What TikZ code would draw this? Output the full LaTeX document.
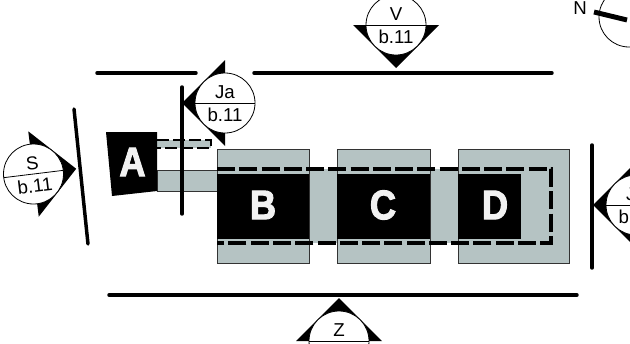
\documentclass[tikz,border=0pt]{standalone}
\usepackage{fontspec}
\setmainfont{Liberation Sans}
\newfontfamily\blockfont[FakeBold=2.5]{Liberation Sans Bold}
\usetikzlibrary{calc}
\definecolor{wall}{HTML}{B5C3C3}
\tikzset{
  block/.style={fill=wall, draw=black!80, line width=0.6pt},
  strip/.style={fill=wall},
  blocktext/.style={font=\blockfont\fontsize{31}{31}\selectfont, text=black!5, xscale=0.88, transform shape, inner sep=0pt},
  cut/.style={line width=2.6pt, line cap=round},
  hidden/.style={line width=2.6pt, dash pattern=on 13.5pt off 3.2pt},
  marktext/.style={font=\fontsize{14}{14}\selectfont, inner sep=0pt},
}
% name, center, triangle angle, text angle, upper text, lower text
\newcommand{\viewmark}[6]{
  \coordinate (#1) at #2;
  \fill[rotate around={#3:(#1)}] ([xshift=-32.25pt]#1) -- ([xshift=32.25pt]#1) -- ([yshift=-32.25pt]#1) -- cycle;
  \draw[fill=white, line width=0.6pt] (#1) circle (22.5pt);
  \draw[line width=0.6pt, rotate around={#4:(#1)}] ([xshift=-22.5pt]#1) -- ([xshift=22.5pt]#1);
  \node[marktext, rotate=#4] (#1up) at ($(#1)+(#4+90:8pt)$) {#5};
  \node[marktext, rotate=#4] (#1low) at ($(#1)+(#4-90:9pt)$) {#6};
}

\begin{document}
\begin{tikzpicture}[x=0.75pt, y=-0.75pt]
  \useasboundingbox (0,0) rectangle (630,343);
  \clip (0,0) rectangle (630,343);

  %Define the building
  \fill[strip] (309,169) rectangle (337,243);
  \fill[strip] (430,169) rectangle (458,243);
  \draw[block] (217,149) rectangle (309,263);
  \draw[block] (337,149) rectangle (430,263);
  \draw[block] (458,149) rectangle (569,263);
  \draw[block] (157,170) rectangle (217,191);
  \fill[strip] (157,140) rectangle (211,148);
  \draw[line width=1.4pt, dash pattern=on 9pt off 3pt] (157,140) -- (211,140) -- (211,148) -- (157,148);
  \draw[hidden] (217,169) -- (551,169) -- (551,243) -- (217,243);

  \fill (106,132) -- (157,132) -- (157,191) -- (112,196) -- cycle;
  \fill (217,174) rectangle (309,239);
  \fill (337,174) rectangle (430,239);
  \fill (458,174) rectangle (521,239);
  \node[blocktext] (la) at (132.5,162) {A};
  \node[blocktext] (lb) at (263,205) {B};
  \node[blocktext] (lc) at (383,205) {C};
  \node[blocktext] (ld) at (495,205) {D};

  % Cut lines
  \draw[cut] (97,73) -- (196,73);
  \draw[cut] (254,73) -- (552,73);
  \draw[cut] (74,109) -- (88,244);
  \draw[cut] (182,87) -- (182,214);
  \draw[cut] (592,145) -- (592,268);
  \draw[cut] (109,295) -- (577,295);

  % View marks
  \viewmark{v}{(396,25)}{0}{0}{V}{b.11}
  \viewmark{s}{(33.5,174)}{97}{7}{S}{b.11}
  \viewmark{ja}{(225,103)}{-90}{0}{Ja}{b.11}
  \viewmark{j}{(636,205)}{-90}{0}{Ja}{b.11}
  \viewmark{z}{(339,341)}{180}{0}{Z}{}

  % North mark
  \draw[line width=0.6pt] (629,17) circle (22.5pt);
  \node[font=\fontsize{14}{14}\selectfont, inner sep=0pt] (n) at (580,8) {N};
  \coordinate (nstart) at (594,12);
  \coordinate (nend) at (627,20);
  \draw[line width=3.7pt] (nstart) -- (nend);
\end{tikzpicture}
\end{document}
